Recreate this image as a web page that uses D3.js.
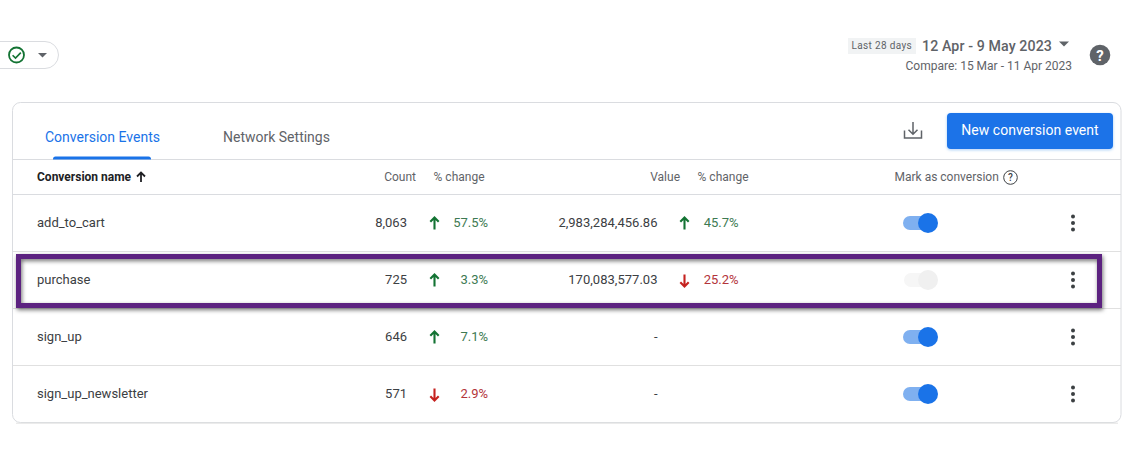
<!DOCTYPE html>
<html><head><meta charset="utf-8">
<script src="https://cdn.jsdelivr.net/npm/d3@7/dist/d3.min.js"></script>
<style>html,body{margin:0;padding:0;background:#fff}svg{display:block}text{font-family:Roboto,sans-serif}</style>
</head><body><svg id="c" width="1134" height="459"></svg>
<script>
const names = ["add_to_cart","purchase","sign_up","sign_up_newsletter"];
const counts = [8063,725,646,571];
const countChange = [57.5,3.3,7.1,-2.9];
const values = ["2,983,284,456.86","170,083,577.03",null,null];
const valueChange = [45.7,-25.2,null,null];
const enabled = [true,false,true,true];
const columnHeaders = ["Count","% change","Value","% change","Mark as conversion"];
const tabs = ["Conversion Events","Network Settings"];

const svg = d3.select("#c");
const defs = svg.append("defs");
const f = defs.append("filter").attr("id","sh").attr("x","-2%").attr("y","-20%").attr("width","104%").attr("height","140%");
f.append("feDropShadow").attr("dx",1).attr("dy",2).attr("stdDeviation",2.2).attr("flood-color","#000").attr("flood-opacity",.55);
const fb = defs.append("filter").attr("id","bs").attr("x","-10%").attr("y","-20%").attr("width","120%").attr("height","150%");
fb.append("feDropShadow").attr("dx",0).attr("dy",1).attr("stdDeviation",1.5).attr("flood-color","#1a73e8").attr("flood-opacity",.35);

const y = d3.scaleBand().domain(names).range([194,422]);
const rowY = i => y(names[i]) + y.bandwidth()/2;
const fmt = d3.format(",");
const txt = (x,yy,s,o={}) => svg.append("text").attr("x",x).attr("y",yy).text(s)
  .attr("font-size",o.size||12.5).attr("fill",o.fill||"#5f6368").attr("text-anchor",o.anchor||"start")
  .attr("font-weight",o.weight||400).attr("letter-spacing",o.ls||null);

// card
svg.append("rect").attr("x",12.5).attr("y",102.5).attr("width",1108.5).attr("height",320).attr("rx",8)
  .attr("fill","#fff").attr("stroke","#dadce0");
svg.append("line").attr("x1",16).attr("x2",1118).attr("y1",423.2).attr("y2",423.2).attr("stroke","#e3e3e3");
[159.5,194.5].forEach(v=>svg.append("line").attr("x1",13).attr("x2",1121).attr("y1",v).attr("y2",v).attr("stroke","#dadce0"));
y.domain().forEach((n,i)=>{ if(i>0) svg.append("line").attr("x1",13).attr("x2",1121).attr("y1",y(n)+.5).attr("y2",y(n)+.5).attr("stroke","#e0e0e0"); });

// top-left chip
svg.append("rect").attr("x",-14).attr("y",41.5).attr("width",72.5).attr("height",27).attr("rx",13.5).attr("fill","#fff").attr("stroke","#dadce0");
svg.append("circle").attr("cx",16.5).attr("cy",55).attr("r",7.5).attr("fill","none").attr("stroke","#137333").attr("stroke-width",1.8);
svg.append("path").attr("d","M12.6 55.2l2.9 2.9 5.3-5.5").attr("fill","none").attr("stroke","#137333").attr("stroke-width",1.6);
svg.append("path").attr("d","M38 53h9l-4.5 4.5z").attr("fill","#5f6368");

// date range
svg.append("rect").attr("x",848).attr("y",38).attr("width",68).attr("height",16).attr("fill","#f1f3f4");
txt(851.5,49,"Last 28 days",{size:10,ls:.35,fill:"#5f6368"});
txt(922,51,"12 Apr - 9 May 2023",{size:14.2,weight:500,ls:.1});
svg.append("path").attr("d","M1059 41.5h10l-5 5z").attr("fill","#5f6368");
txt(1072,70,"Compare: 15 Mar - 11 Apr 2023",{size:12,anchor:"end",fill:"#5f6368"});
svg.append("circle").attr("cx",1100).attr("cy",55).attr("r",10.3).attr("fill","#5f6368");
txt(1100,60.5,"?",{size:15,weight:700,anchor:"middle",fill:"#fff"});

// tabs
txt(45,142,tabs[0],{size:14,fill:"#1a73e8"});
txt(223,142,tabs[1],{size:14,fill:"#5f6368"});
svg.append("path").attr("d","M53 159.5v-.5a2.5 2.5 0 0 1 2.5-2.5h93a2.5 2.5 0 0 1 2.5 2.5v.5z").attr("fill","#1a73e8");

// download + button
svg.append("path").attr("d","M904.5 130.5v7.5h17v-7.5M913 122v12M908.5 129.7l4.5 4.5 4.5-4.5").attr("fill","none").attr("stroke","#5f6368").attr("stroke-width",1.5);
svg.append("rect").attr("x",947).attr("y",113).attr("width",166).attr("height",36).attr("rx",4).attr("fill","#1a73e8").attr("filter","url(#bs)");
txt(1030,135,"New conversion event",{size:14,weight:400,ls:.02,anchor:"middle",fill:"#fff"});

// headers
txt(37,181,"Conversion name",{size:12,weight:700,fill:"#202124"});
svg.append("path").attr("d","M141 182v-9M137 176.5l4-4 4 4").attr("fill","none").attr("stroke","#202124").attr("stroke-width",1.8);
txt(416,181,columnHeaders[0],{size:12,anchor:"end"});
txt(484.5,181,columnHeaders[1],{size:12,anchor:"end"});
txt(680,181,columnHeaders[2],{size:12,anchor:"end"});
txt(748.5,181,columnHeaders[3],{size:12,anchor:"end"});
txt(894.5,181,columnHeaders[4],{size:12});
svg.append("circle").attr("cx",1010.5).attr("cy",177.5).attr("r",6.8).attr("fill","none").attr("stroke","#3c4043").attr("stroke-width",1);
txt(1010.5,181.2,"?",{size:10,weight:500,anchor:"middle",fill:"#3c4043"});

function arrow(x,cy,up){
  const s = up?-1:1, c = up?"#137333":"#c5221f";
  svg.append("path").attr("d",`M${x} ${cy-6*s}V${cy+6*s}M${x-4.2} ${cy+1.8*s}L${x} ${cy+6*s}L${x+4.2} ${cy+1.8*s}`)
    .attr("fill","none").attr("stroke",c).attr("stroke-width",2.1);
}
const rowSize = 13;
names.forEach((n,i)=>{
  const cy = rowY(i), by = cy+4;
  txt(37,by,n,{size:rowSize,fill:"#3c4043"});
  txt(407,by,fmt(counts[i]),{size:rowSize,anchor:"end",fill:"#3c4043"});
  const cc = countChange[i];
  arrow(434.5,cy+1,cc>=0);
  txt(488,by,Math.abs(cc).toFixed(1)+"%",{size:rowSize,anchor:"end",fill:cc>=0?"#3d7a52":"#b3343a"});
  if(values[i]){
    txt(657.5,by,values[i],{size:rowSize,ls:.02,anchor:"end",fill:"#3c4043"});
    const vc=valueChange[i];
    arrow(684.5,cy+1,vc>=0);
    txt(738.5,by,Math.abs(vc).toFixed(1)+"%",{size:rowSize,anchor:"end",fill:vc>=0?"#3d7a52":"#b3343a"});
  } else {
    txt(657.5,by,"-",{size:rowSize,anchor:"end",fill:"#3c4043"});
  }
  // toggle
  if(enabled[i]){
    svg.append("rect").attr("x",903).attr("y",cy-6.5).attr("width",30).attr("height",14).attr("rx",7).attr("fill","#7fb0f0");
    svg.append("circle").attr("cx",928).attr("cy",cy+0.5).attr("r",10).attr("fill","#1a73e8");
  } else {
    svg.append("rect").attr("x",904).attr("y",cy-6.5).attr("width",30).attr("height",14).attr("rx",7).attr("fill","#f6f6f6");
    svg.append("circle").attr("cx",928).attr("cy",cy+0.5).attr("r",10).attr("fill","#f0f0f0");
  }
  // kebab
  [-6.5,0,6.5].forEach(d=>svg.append("circle").attr("cx",1073).attr("cy",cy+.5+d).attr("r",2).attr("fill","#3c4043"));
});

// highlight
svg.append("rect").attr("x",18.5).attr("y",256.5).attr("width",1081).attr("height",49)
  .attr("fill","none").attr("stroke","#5b2180").attr("stroke-width",5).attr("filter","url(#sh)");
</script></body></html>
